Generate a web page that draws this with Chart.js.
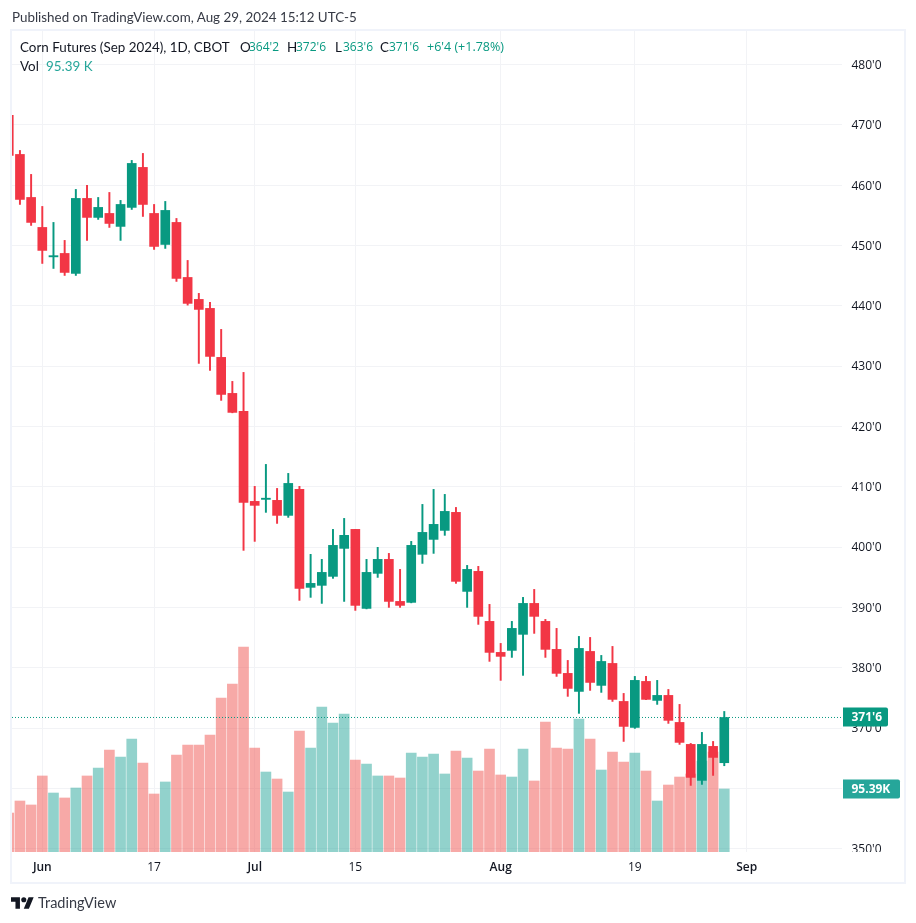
<!DOCTYPE html>
<html>
	<head>
		<title>Corn Futures (Sep 2024)</title>
		<meta charset="utf-8">
		<script src="https://cdn.jsdelivr.net/npm/chart.js"></script>
		<style>
			html, body { margin: 0; padding: 0; background: #fff; }
			body { width: 916px; height: 923px; position: relative; overflow: hidden; font-family: Lato, sans-serif; color: #131722; }
			#pane { position: absolute; left: 10px; top: 29px; width: 892px; height: 851px; border: 2px solid #f0f3fa; }
			canvas { position: absolute; left: 0; top: 0; }
			.t { position: absolute; white-space: pre; font-size: 13.4px; line-height: 16px; }
			.up { color: #089981; font-family: "Open Sans", sans-serif; font-size: 12px; }
			.vol { color: #26a69a; }
		</style>
	</head>
	<body>
		<div id="pane"></div>
		<canvas id="chart" width="916" height="923"></canvas>

		<div class="t" style="left:12px;top:9px;color:#363a45">Published on TradingView.com, Aug 29, 2024 15:12 UTC-5</div>
		<div class="t" style="left:20px;top:39px">Corn Futures (Sep 2024), 1D, CBOT</div>
		<div class="t" style="left:240px;top:39px">O</div><div class="t up" style="left:249px;top:39px">364'2</div>
		<div class="t" style="left:287px;top:39px">H</div><div class="t up" style="left:296px;top:39px">372'6</div>
		<div class="t" style="left:335px;top:39px">L</div><div class="t up" style="left:343px;top:39px">363'6</div>
		<div class="t" style="left:380px;top:39px">C</div><div class="t up" style="left:389px;top:39px">371'6</div>
		<div class="t up" style="left:427px;top:39px;font-size:12.5px">+6'4 (+1.78%)</div>
		<div class="t" style="left:20px;top:58px">Vol</div><div class="t vol" style="left:46px;top:58px">95.39 K</div>

		<svg style="position:absolute;left:11px;top:896px" width="23" height="14" viewBox="0 4 36 18"><path fill="#131722" d="M14 22H7V11H0V4h14v18zM28 22h-8l7.5-18h8L28 22z"/><circle fill="#131722" cx="20" cy="8" r="4"/></svg>
		<div class="t" style="left:38px;top:894px;font-size:14.5px;line-height:18px;color:#363a45">TradingView</div>

		<script>

			// Daily candles (index 0 = May 29, last = Aug 29)
			const opens = [471.55, 465.08, 457.95, 452.98, 448.10, 448.67, 445.36, 457.79, 454.64, 455.30, 453.15, 456.30, 462.93, 455.30, 450.16, 453.81, 444.69, 441.05, 439.56, 431.44, 425.47, 422.49, 407.57, 407.90, 407.74, 405.25, 409.56, 393.32, 393.65, 395.14, 399.78, 402.93, 389.83, 395.64, 397.96, 390.99, 390.83, 398.79, 401.27, 402.76, 405.75, 392.65, 395.97, 387.68, 382.54, 382.87, 385.53, 390.66, 387.68, 383.04, 379.06, 376.07, 382.70, 377.07, 380.71, 374.41, 370.10, 377.73, 374.58, 375.41, 370.93, 367.29, 361.32, 366.96, 364.25];
			const highs = [471.55, 465.74, 461.77, 456.46, 453.81, 450.83, 459.28, 459.94, 457.95, 458.78, 457.46, 464.09, 465.25, 456.79, 457.29, 454.47, 447.51, 442.05, 440.55, 436.08, 427.46, 428.95, 410.06, 413.70, 409.72, 412.21, 410.06, 398.79, 397.96, 402.93, 404.75, 402.93, 397.96, 399.95, 398.95, 396.30, 400.94, 407.07, 409.56, 408.73, 406.57, 396.96, 396.80, 390.50, 384.03, 387.68, 391.66, 392.98, 388.01, 386.52, 381.21, 385.19, 385.02, 382.04, 383.53, 375.74, 378.56, 378.56, 377.90, 376.40, 373.92, 367.45, 369.28, 367.78, 372.75];
			const lows = [464.92, 456.79, 453.31, 447.01, 446.18, 445.02, 445.02, 450.83, 454.31, 452.98, 450.83, 455.96, 454.80, 449.33, 449.50, 444.03, 440.10, 430.44, 429.28, 424.31, 422.25, 399.45, 400.94, 405.75, 403.92, 404.92, 391.16, 391.66, 390.66, 394.81, 390.99, 389.50, 389.75, 394.97, 390.00, 390.00, 390.75, 397.29, 398.95, 401.94, 393.98, 390.00, 387.18, 381.05, 377.90, 381.71, 378.73, 385.69, 381.71, 378.56, 375.25, 372.43, 376.24, 375.91, 374.41, 367.78, 369.94, 374.70, 373.92, 370.77, 367.29, 360.49, 360.66, 362.15, 363.75];
			const closes = [464.92, 457.62, 453.81, 449.17, 448.30, 445.52, 457.79, 454.64, 456.30, 453.64, 456.79, 463.59, 456.79, 449.83, 455.80, 444.53, 440.39, 439.39, 431.60, 425.30, 422.32, 407.40, 406.91, 408.10, 405.25, 410.55, 393.15, 393.98, 395.80, 400.28, 401.94, 390.33, 395.80, 397.96, 390.99, 390.33, 400.28, 402.43, 403.76, 405.91, 394.31, 396.30, 388.51, 382.54, 381.88, 386.52, 390.66, 388.51, 383.04, 379.06, 376.57, 383.20, 377.56, 381.04, 374.75, 370.27, 377.90, 374.75, 375.41, 371.27, 367.62, 361.82, 367.29, 365.13, 371.75];
			const volumes = [59.0, 77.2, 71.2, 115.1, 89.3, 81.8, 96.9, 115.1, 127.2, 154.4, 143.8, 171.1, 134.7, 87.8, 106.0, 146.9, 162.0, 162.0, 177.1, 233.2, 254.4, 310.4, 157.5, 121.1, 110.5, 90.8, 183.2, 157.5, 219.5, 195.3, 208.9, 139.3, 133.2, 115.1, 115.1, 112.0, 149.9, 143.8, 148.4, 118.1, 152.9, 142.3, 122.6, 155.9, 116.6, 113.5, 155.9, 107.5, 196.8, 157.5, 155.9, 201.4, 171.1, 124.1, 151.4, 136.3, 149.9, 122.6, 77.2, 101.4, 113.5, 118.1, 137.8, 151.4, 95.39];

			// Axis ticks
			const dateTickIndex = [3, 13, 22, 31, 44, 56, 66];
			const dateTickLabels = ['Jun', '17', 'Jul', '15', 'Aug', '19', 'Sep'];
			const priceTicks = [350, 360, 370, 380, 390, 400, 410, 420, 430, 440, 450, 460, 470, 480];

			const lastPrice = 371.75;
			const lastPriceLabel = "371'6";
			const lastVolume = 95.39;
			const lastVolumeLabel = '95.39K';

			const UP = '#089981';
			const DOWN = '#f23645';
			const UP_VOL = 'rgba(38,166,154,0.5)';
			const DOWN_VOL = 'rgba(239,83,80,0.5)';
			const GRID = '#f2f3f6';
			const FONT = '"Open Sans", sans-serif';

			const xMin = 0.29, xMax = 74.53;
			const isUp = opens.map((o, i) => closes[i] >= o);

			// Last price and volume badges on the right axis
			const badges = {
				id: 'badges',
				afterDraw(chart) {
					const c = chart.ctx;
					const s = chart.scales;
					// the bottom tick label gets cut off by the time axis
					c.fillStyle = '#fff';
					c.fillRect(843, 852, 61, 30);

					const badge = (y, w, label, color) => {
						c.fillStyle = color;
						c.beginPath();
						c.roundRect(843, Math.round(y) - 9.5, w, 19, [0, 2, 2, 0]);
						c.fill();
						c.fillStyle = '#fff';
						c.font = '700 12px ' + FONT;
						c.textAlign = 'left';
						c.textBaseline = 'middle';
						c.fillText(label, 851.5, Math.round(y) + 0.5);
					};
					badge(s.y.getPixelForValue(lastPrice), 45, lastPriceLabel, UP);
					badge(s.y2.getPixelForValue(lastVolume), 57, lastVolumeLabel, '#26a69a');
				}
			};

			new Chart(document.getElementById('chart'), {
				type: 'bar',
				data: {
					datasets: [
						{
							data: volumes.map((v, i) => ({ x: i, y: v })),
							yAxisID: 'y2',
							backgroundColor: isUp.map(u => u ? UP_VOL : DOWN_VOL),
							barThickness: 10,
							grouped: false,
							order: 4
						},
						{
							type: 'line',
							data: [{ x: xMin, y: lastPrice }, { x: xMax, y: lastPrice }],
							borderColor: UP,
							borderWidth: 1,
							borderDash: [1, 2],
							pointRadius: 0,
							order: 3
						},
						{
							data: lows.map((l, i) => ({ x: i, y: [l, highs[i]] })),
							backgroundColor: isUp.map(u => u ? UP : DOWN),
							barThickness: 1.3,
							grouped: false,
							order: 2
						},
						{
							data: opens.map((o, i) => ({ x: i, y: [o, closes[i]] })),
							backgroundColor: isUp.map(u => u ? UP : DOWN),
							barThickness: 9,
							grouped: false,
							order: 1
						}
					]
				},
				options: {
					responsive: false,
					animation: false,
					layout: { padding: { left: 12, top: 31, right: 12, bottom: 40 } },
					plugins: { legend: { display: false }, tooltip: { enabled: false } },
					scales: {
						x: {
							type: 'linear',
							min: xMin,
							max: xMax,
							offset: false,
							border: { display: false },
							grid: { color: GRID, offset: false, drawTicks: false },
							afterBuildTicks: s => { s.ticks = dateTickIndex.map(v => ({ value: v })); },
							afterFit: s => { s.height = 31; },
							ticks: {
								padding: 8,
								autoSkip: false,
								maxRotation: 0,
								color: '#131722',
								font: ctx => {
									const isMonth = isNaN(dateTickLabels[ctx.index]);
									return { family: FONT, size: 12, weight: isMonth ? '600' : '400' };
								},
								callback: v => dateTickLabels[dateTickIndex.indexOf(v)]
							}
						},
						y: {
							position: 'right',
							min: 349.453,
							max: 485.54,
							border: { display: false },
							grid: { color: GRID, drawTicks: false },
							afterBuildTicks: s => { s.ticks = priceTicks.map(v => ({ value: v })); },
							afterFit: s => { s.width = 62; },
							ticks: {
								padding: 9.5,
								labelOffset: 1,
								autoSkip: false,
								color: '#131722',
								font: { family: FONT, size: 12 },
								callback: v => v + "'0"
							}
						},
						y2: { display: false, min: 0, max: 1243 }
					}
				},
				plugins: [badges]
			});

		</script>
	</body>
</html>
